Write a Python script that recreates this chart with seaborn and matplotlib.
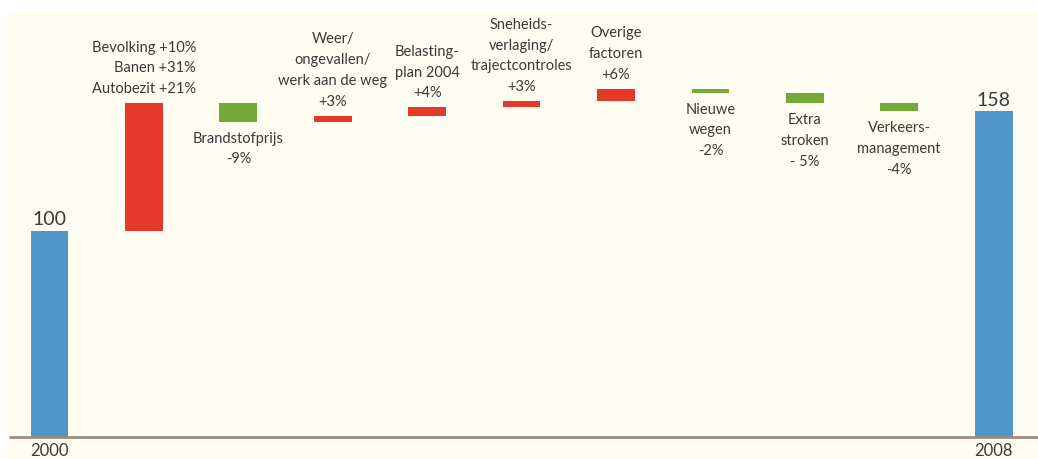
import numpy as np
import pandas as pd
import matplotlib
matplotlib.use("Agg")
import matplotlib.pyplot as plt
import seaborn as sns

# Waterfall: congestion growth 2000 -> 2008 broken down by cause
steps = ["2000", "Bevolking/Banen/Autobezit", "Brandstofprijs", "Weer", "Belastingplan",
         "Snelheidsverlaging", "Overige", "Nieuwe wegen", "Extra stroken",
         "Verkeersmanagement", "2008"]
changes = [100, 62, -9, 3, 4, 3, 6, -2, -5, -4, 158]
is_total = [True, False, False, False, False, False, False, False, False, False, True]
labels = [
    "100",
    "Bevolking +10%\nBanen +31%\nAutobezit +21%",
    "Brandstofprijs\n-9%",
    "Weer/\nongevallen/\nwerk aan de weg\n+3%",
    "Belasting-\nplan 2004\n+4%",
    "Sneheids-\nverlaging/\ntrajectcontroles\n+3%",
    "Overige\nfactoren\n+6%",
    "Nieuwe\nwegen\n-2%",
    "Extra\nstroken\n- 5%",
    "Verkeers-\nmanagement\n-4%",
    "158",
]
year_labels = {0: "2000", 10: "2008"}

BLUE = "#5096c8"
RED = "#e5392b"
GREEN = "#76aa36"
CREAM = "#fffdf2"
TEXT = "#3a3a3a"

# Floating bar extents from the running total
bottoms, heights, colors = [], [], []
running = 0
for ch, tot in zip(changes, is_total):
    if tot:
        bottoms.append(0)
        heights.append(ch)
        colors.append(BLUE)
        running = ch
    else:
        lo = running if ch > 0 else running + ch
        bottoms.append(lo)
        heights.append(abs(ch))
        colors.append(RED if ch > 0 else GREEN)
        running += ch

df = pd.DataFrame({"step": steps, "height": heights, "bottom": bottoms})

sns.set_theme(style="white")
plt.rcParams["font.family"] = ["Lato", "DejaVu Sans"]

fig = plt.figure(figsize=(10.38, 4.59), dpi=100)
fig.patch.set_facecolor("white")
ax = fig.add_axes([8 / 1038, 0, 1 - 8 / 1038, (459 - 12) / 459])
ax.set_facecolor(CREAM)

sns.barplot(data=df, x="step", y="height", order=steps, bottom=df["bottom"].values,
            width=0.40, ax=ax, color=BLUE, linewidth=0, errorbar=None)
for patch, c in zip(ax.patches, colors):
    patch.set_facecolor(c)
    patch.set_edgecolor("none")

ax.axhline(0, color="#9b8b82", lw=2, xmin=0.002, zorder=3)

ax.set_xlim(-0.44, 10.47)
ax.set_ylim(-10.7, 206.3)

for i, (lab, ch, tot) in enumerate(zip(labels, changes, is_total)):
    top = bottoms[i] + heights[i]
    if tot:
        ax.annotate(lab, (i, top), xytext=(0, 2), textcoords="offset points",
                    ha="center", va="bottom", fontsize=14, color=TEXT)
    elif ch > 0:
        ax.annotate(lab, (i, top), xytext=(0, 5), textcoords="offset points",
                    ha="center", va="bottom", fontsize=10.5, color=TEXT,
                    linespacing=1.62, multialignment="right" if i == 1 else "center")
    else:
        ax.annotate(lab, (i, bottoms[i]), xytext=(0, -7), textcoords="offset points",
                    ha="center", va="top", fontsize=10.5, color=TEXT, linespacing=1.62)

for i, yl in year_labels.items():
    ax.annotate(yl, (i, 0), xytext=(0, -4), textcoords="offset points",
                ha="center", va="top", fontsize=12, color=TEXT)

ax.set_xticks([])
ax.set_yticks([])
ax.set_xlabel("")
ax.set_ylabel("")
for s in ax.spines.values():
    s.set_visible(False)

fig.savefig("out.png", dpi=100, facecolor=fig.get_facecolor())
